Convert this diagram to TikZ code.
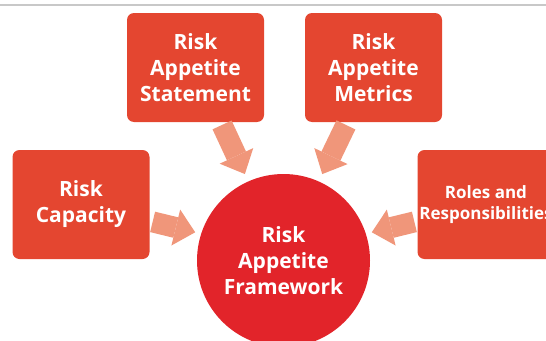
\documentclass[tikz,border=0pt]{standalone}
\usepackage{fontspec}
\setsansfont{Open Sans}
\usepackage{xcolor}
\definecolor{riskbox}{RGB}{228,70,48}
\definecolor{riskred}{RGB}{226,36,42}
\definecolor{risksalmon}{RGB}{240,150,122}
\definecolor{rulegray}{RGB}{200,200,200}
\tikzset{every picture/.style={/utils/exec={\sffamily}}}
\usetikzlibrary{arrows.meta}

\begin{document}
\begin{tikzpicture}[x=1pt,y=-1pt]
  \useasboundingbox (0,0) rectangle (546,340);

	 \tikzstyle{box}=[rectangle,rounded corners=7pt,fill=riskbox,text=white,minimum width=137pt,minimum height=109pt,inner sep=0pt,align=center,font=\bfseries\fontsize{21}{26}\selectfont]
	 \tikzstyle{smallbox}=[box,font=\bfseries\fontsize{17}{21}\selectfont]
	 \tikzstyle{hub}=[circle,fill=riskred,text=white,minimum size=173pt,inner sep=0pt,align=center,font=\bfseries\fontsize{21}{26}\selectfont]
	 \tikzstyle{feed}=[draw=risksalmon,line width=21pt,-{Triangle[width=37pt,length=20pt,line width=0pt]},shorten <=3pt]

	 \draw[rulegray,line width=1.5pt] (0,5) -- (546,5);

	 \node[box] (stmt) at (195.5,67.5) {Risk\\Appetite\\Statement};
	 \node[box] (metr) at (373.5,67.5) {Risk\\Appetite\\Metrics};
	 \node[box] (cap) at (81,204.5) {Risk\\Capacity};
	 \node[smallbox] (roles) at (486,204.5) {Roles and\\Responsibilities};
	 \node[hub] (raf) at (283.5,260.5) {Risk\\Appetite\\Framework};

	 \draw[feed,shorten >=8pt] (stmt) -- (raf.114);
	 \draw[feed,shorten >=8pt] (metr) -- (raf.66);
	 \draw[feed,shorten >=6pt] (cap) -- (raf.162);
	 \draw[feed,shorten >=6pt] (roles) -- (raf.18);

\end{tikzpicture}
\end{document}
